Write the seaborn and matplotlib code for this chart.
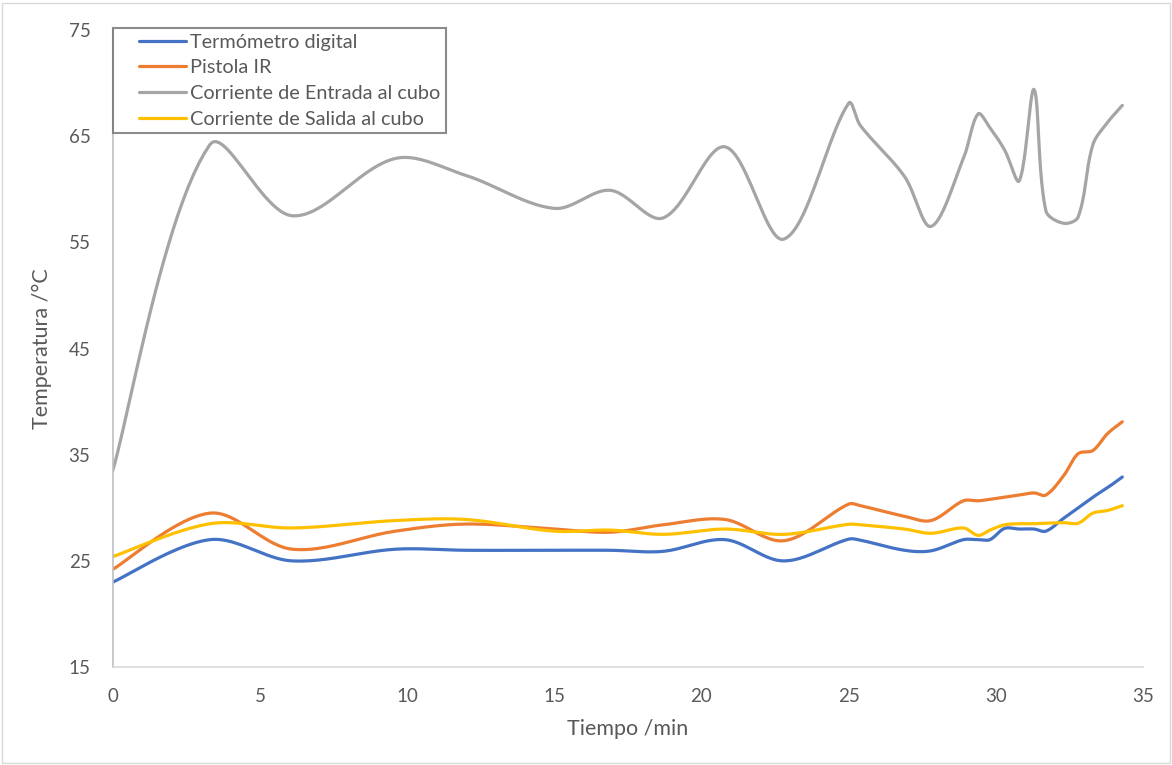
import numpy as np
import pandas as pd
import matplotlib.pyplot as plt
import seaborn as sns
from matplotlib.patches import Rectangle
from matplotlib.legend_handler import HandlerLine2D

# values
tiempo = [0, 3.3, 6.1, 9.6, 12.0, 15.0, 16.9, 18.7, 20.8, 22.8, 25.0, 25.4, 26.9,
          27.8, 28.9, 29.4, 29.8, 30.3, 30.8, 31.3, 31.7, 32.3, 32.8, 33.3, 33.8, 34.3]
termometro = [23.0, 27.0, 25.0, 26.1, 26.0, 26.0, 26.0, 25.9, 27.0, 25.0, 27.05, 26.95, 26.0,
              25.95, 27.0, 27.0, 27.0, 28.06, 28.0, 28.0, 27.8, 29.0, 30.0, 31.0, 31.9, 32.9]
pistola = [24.2, 29.5, 26.1, 27.8, 28.47, 28.0, 27.7, 28.4, 28.9, 26.9, 30.35, 30.2, 29.2,
           28.8, 30.66, 30.66, 30.8, 31.0, 31.2, 31.4, 31.2, 33.0, 35.1, 35.4, 37.0, 38.1]
entrada = [33.5, 64.2, 57.5, 62.9, 61.3, 58.2, 59.9, 57.3, 64.0, 55.3, 68.1, 66.0, 61.2,
           56.5, 62.9, 67.1, 65.8, 63.7, 60.8, 69.4, 58.0, 56.8, 57.4, 64.2, 66.3, 67.9]
salida = [25.4, 28.5, 28.1, 28.8, 28.9, 27.8, 27.9, 27.5, 28.0, 27.5, 28.45, 28.4, 28.0,
          27.6, 28.1, 27.4, 27.9, 28.4, 28.5, 28.5, 28.55, 28.6, 28.55, 29.5, 29.75, 30.2]

series = ["Termómetro digital", "Pistola IR", "Corriente de Entrada al cubo", "Corriente de Salida al cubo"]
colores = ["#4472C4", "#ED7D31", "#A5A5A5", "#FFC000"]
x_ticks = [0, 5, 10, 15, 20, 25, 30, 35]
y_ticks = [15, 25, 35, 45, 55, 65, 75]


def excel_smooth(x, y, sx, sy, n=24):
    """Bezier smoothing similar to Excel's smoothed line, in pixel-like space.
    Control arms are scaled by segment length so short segments don't loop."""
    P = np.column_stack([np.asarray(x, float) * sx, np.asarray(y, float) * sy])
    pts = []
    t = np.linspace(0, 1, n, endpoint=False)[:, None]
    for i in range(len(P) - 1):
        p0 = P[i - 1] if i > 0 else P[i]
        p1, p2 = P[i], P[i + 1]
        p3 = P[i + 2] if i + 2 < len(P) else P[i + 1]
        d01 = np.linalg.norm(p1 - p0)
        d12 = np.linalg.norm(p2 - p1)
        d23 = np.linalg.norm(p3 - p2)
        c1 = p1 + (p2 - p0) * (d12 / (d01 + d12) / 3 if d01 > 0 else 1 / 6)
        c2 = p2 - (p3 - p1) * (d12 / (d12 + d23) / 3 if d23 > 0 else 1 / 6)
        pts.append((1 - t) ** 3 * p1 + 3 * (1 - t) ** 2 * t * c1 + 3 * (1 - t) * t ** 2 * c2 + t ** 3 * p2)
    pts.append(P[-1:])
    pts = np.vstack(pts)
    return pts[:, 0] / sx, pts[:, 1] / sy


class IndentedLine(HandlerLine2D):
    # legend sample line starts a bit in from the frame, like Excel
    def get_xdata(self, legend, xdescent, ydescent, width, height, fontsize):
        xd, xm = super().get_xdata(legend, xdescent, ydescent, width, height, fontsize)
        xd = np.linspace(xd[0] + 0.31 * width, xd[-1], len(xd))
        return xd, xm


sns.set_style("white")
plt.rcParams["font.family"] = ["Lato", "DejaVu Sans"]

fig = plt.figure(figsize=(11.72, 7.65), dpi=100)
ax = fig.add_axes([0.0962, 0.128, 0.879, 0.8328])

sx, sy = 1031 / 35, 637 / 60
for name, vals, col in zip(series, [termometro, pistola, entrada, salida], colores):
    xs, ys = excel_smooth(tiempo, vals, sx, sy)
    df = pd.DataFrame({"Tiempo": xs, "Temp": ys})
    sns.lineplot(data=df, x="Tiempo", y="Temp", sort=False, estimator=None,
                 color=col, linewidth=2.3, label=name, ax=ax)

ax.set_xlim(0, 35)
ax.set_ylim(15, 75)
ax.set_xticks(x_ticks)
ax.set_yticks(y_ticks)
ax.tick_params(axis="both", length=0, labelsize=13.5, labelcolor="#595959")
ax.tick_params(axis="x", pad=15)
ax.tick_params(axis="y", pad=16)
ax.set_xlabel("Tiempo /min", fontsize=15.5, color="#595959", labelpad=10)
ax.set_ylabel("Temperatura /°C", fontsize=15.5, color="#595959", labelpad=12)

for s in ["top", "right"]:
    ax.spines[s].set_visible(False)
ax.spines["left"].set_color("#BFBFBF")
ax.spines["bottom"].set_color("#D9D9D9")
ax.spines["left"].set_linewidth(1.2)
ax.spines["bottom"].set_linewidth(1.2)

handles, labels = ax.get_legend_handles_labels()
leg = ax.legend(handles, labels, loc="upper left", bbox_to_anchor=(0.0, 1.003), fontsize=14.3,
                frameon=True, fancybox=False, handlelength=3.4, handletextpad=0.2,
                labelspacing=0.44, borderpad=0.28, borderaxespad=0.0,
                handler_map={h: IndentedLine() for h in handles})
leg.get_frame().set_edgecolor("#6E6E6E")
leg.get_frame().set_linewidth(1.5)
for txt in leg.get_texts():
    txt.set_color("#595959")

fig.patches.append(Rectangle((0.002, 0.002), 0.996, 0.994, transform=fig.transFigure,
                             fill=False, edgecolor="#D9D9D9", linewidth=1))

fig.savefig("out.png", dpi=100)
